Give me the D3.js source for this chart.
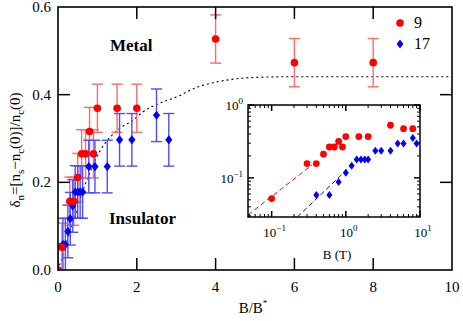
<!DOCTYPE html>
<html>
<head>
<meta charset="utf-8">
<script src="https://cdn.jsdelivr.net/npm/d3@7.9.0/dist/d3.min.js"></script>
<style>
  body { margin: 0; background: #fff; }
  svg { display: block; font-family: "Liberation Serif", "DejaVu Serif", serif; }
</style>
</head>
<body>
<svg id="chart" width="463" height="321"></svg>
<script>
// series 9: B (T) and delta_n, B* = 1 T
const field9 = [0.1, 0.3, 0.4, 0.5, 0.6, 0.7, 0.8, 0.9, 1.0, 1.5, 2, 4, 6, 8];
const delta9 = [0.052, 0.157, 0.157, 0.211, 0.265, 0.265, 0.316, 0.265, 0.369, 0.369, 0.369, 0.527, 0.473, 0.473];
// series 17: B (T) and delta_n, B* = 3.2 T
const field17 = [0.4, 0.6, 0.8, 1.0, 1.2, 1.4, 1.6, 1.8, 2.0, 2.5, 3, 4, 5, 6, 8, 9];
const delta17 = [0.058, 0.058, 0.088, 0.117, 0.146, 0.178, 0.178, 0.178, 0.178, 0.236, 0.236, 0.236, 0.297, 0.297, 0.353, 0.297];
const seriesNames = ['9', '17'];
const bStar = [1, 3.2];
const errBar = [0.055, 0.06];
// dotted guide curve in the main panel
const guideX = [0, 0.35, 0.64, 1.07, 1.57, 1.91, 2.16, 2.59, 3.07, 3.35, 4.34, 5.2, 6, 10];
const guideY = [0, 0.1, 0.183, 0.272, 0.323, 0.342, 0.361, 0.381, 0.397, 0.41, 0.434, 0.44, 0.441, 0.441];
// dashed power-law guides in the inset: [B, delta] end points
const fit9 = [[0.048, 0.031], [0.35, 0.15]];
const fit17 = [[0.222, 0.029], [1.2, 0.15]];

const xTicks = [0, 2, 4, 6, 8, 10];
const yTicks = [0, 0.2, 0.4, 0.6];

const svg = d3.select('#chart');
const red = '#ff0000', blue = '#0000ff';
const redBar = '#ff6a6a', blueBar = '#4d4dff';

const x = d3.scaleLinear().domain([0, 10]).range([58, 452]);
const y = d3.scaleLinear().domain([0, 0.6]).range([270, 7]);

const diamond = (w, h) => `M0,${-h}L${w},0L0,${h}L${-w},0Z`;

const mainData = [
  [{ b: 0, d: 0 }].concat(field9.map((b, i) => ({ b: b / bStar[0], d: delta9[i] }))),
  [{ b: 0, d: 0 }].concat(field17.map((b, i) => ({ b: b / bStar[1], d: delta17[i] })))
];

svg.append('clipPath').attr('id', 'clip')
  .append('rect').attr('x', 58).attr('y', 7).attr('width', 394).attr('height', 263);

const plot = svg.append('g').attr('clip-path', 'url(#clip)');

// guide curve
plot.append('path')
  .datum(guideX.map((v, i) => [v, guideY[i]]))
  .attr('d', d3.line().x(d => x(d[0])).y(d => y(d[1])).curve(d3.curveMonotoneX))
  .attr('fill', 'none').attr('stroke', '#000').attr('stroke-width', 1.1)
  .attr('stroke-dasharray', '2,3');

// error bars
[0, 1].forEach(s => {
  const col = s === 0 ? redBar : blueBar;
  const g = plot.append('g').attr('stroke', col).attr('stroke-width', 1.4).attr('fill', 'none');
  mainData[s].forEach(p => {
    const px = x(p.b), y1 = y(p.d + errBar[s]), y0 = y(p.d - errBar[s]);
    g.append('line').attr('x1', px).attr('x2', px).attr('y1', y1).attr('y2', y0);
    g.append('line').attr('x1', px - 5.5).attr('x2', px + 5.5).attr('y1', y1).attr('y2', y1);
    g.append('line').attr('x1', px - 5.5).attr('x2', px + 5.5).attr('y1', y0).attr('y2', y0);
  });
});

// markers
plot.selectAll('path.m17').data(mainData[1]).join('path')
  .attr('class', 'm17')
  .attr('d', diamond(3.6, 4.6))
  .attr('transform', d => `translate(${x(d.b)},${y(d.d)})`)
  .attr('fill', blue);
plot.selectAll('circle.m9').data(mainData[0]).join('circle')
  .attr('class', 'm9')
  .attr('cx', d => x(d.b)).attr('cy', d => y(d.d)).attr('r', 3.8)
  .attr('fill', red);

// frame + ticks
svg.append('rect').attr('x', 58).attr('y', 7).attr('width', 394).attr('height', 263)
  .attr('fill', 'none').attr('stroke', '#000').attr('stroke-width', 1.6);

const tickG = svg.append('g').attr('stroke', '#000').attr('stroke-width', 1.5);
xTicks.slice(1, -1).forEach(t => {
  tickG.append('line').attr('x1', x(t)).attr('x2', x(t)).attr('y1', 270).attr('y2', 258);
  tickG.append('line').attr('x1', x(t)).attr('x2', x(t)).attr('y1', 7).attr('y2', 19);
});
yTicks.slice(1, -1).forEach(t => {
  tickG.append('line').attr('x1', 58).attr('x2', 70).attr('y1', y(t)).attr('y2', y(t));
  tickG.append('line').attr('x1', 452).attr('x2', 440).attr('y1', y(t)).attr('y2', y(t));
});

svg.append('g').selectAll('text').data(xTicks).join('text')
  .attr('x', d => x(d)).attr('y', 292)
  .attr('text-anchor', 'middle').attr('font-size', 15)
  .text(d => d);
svg.append('g').selectAll('text').data(yTicks).join('text')
  .attr('x', 51).attr('y', d => y(d) + 5)
  .attr('text-anchor', 'end').attr('font-size', 15)
  .text(d => d3.format('.1f')(d));

// axis labels
const xl = svg.append('text').attr('x', 253).attr('y', 313)
  .attr('text-anchor', 'middle').attr('font-size', 15);
xl.append('tspan').text('B/B');
xl.append('tspan').attr('dy', -7).attr('font-size', 9).text('*');

const yl = svg.append('text')
  .attr('transform', 'translate(20,150) rotate(-90)')
  .attr('text-anchor', 'middle').attr('font-size', 15);
[['δ', 0], ['n', 1], ['=[n', 0], ['s', 1], ['−n', 0], ['c', 1], ['(0)]/n', 0], ['c', 1], ['(0)', 0]]
  .forEach(([t, sub], i, arr) => {
    const prevSub = i > 0 ? arr[i - 1][1] : 0;
    const dy = sub && !prevSub ? 4 : (!sub && prevSub ? -4 : 0);
    yl.append('tspan').attr('dy', dy).attr('font-size', sub ? 11 : 15).text(t);
  });

// region labels
svg.append('text').attr('x', 110).attr('y', 51).attr('font-size', 17)
  .attr('font-weight', 'bold').text('Metal');
svg.append('text').attr('x', 109).attr('y', 224).attr('font-size', 17)
  .attr('font-weight', 'bold').text('Insulator');

// legend
const leg = svg.append('g');
leg.append('circle').attr('cx', 400).attr('cy', 23).attr('r', 3.8).attr('fill', red);
leg.append('path').attr('d', diamond(3.4, 4.4)).attr('transform', 'translate(400,44)').attr('fill', blue);
leg.selectAll('text').data(seriesNames).join('text')
  .attr('x', 414).attr('y', (d, i) => 28 + i * 21).attr('font-size', 16).text(d => d);

// ---------- inset ----------
const ix = d3.scaleLog().domain([0.048, 10]).range([248, 420]);
const iy = d3.scaleLog().domain([0.029, 1]).range([217, 105]);

svg.append('rect').attr('x', 248).attr('y', 105).attr('width', 172).attr('height', 112)
  .attr('fill', '#fff');

svg.append('clipPath').attr('id', 'iclip')
  .append('rect').attr('x', 248).attr('y', 105).attr('width', 172).attr('height', 112);
const inset = svg.append('g').attr('clip-path', 'url(#iclip)');

const fitLine = d3.line().x(d => ix(d[0])).y(d => iy(d[1]));
inset.append('path').attr('d', fitLine(fit9)).attr('stroke', red).attr('stroke-width', 1)
  .attr('stroke-dasharray', '5,3').attr('fill', 'none');
inset.append('path').attr('d', fitLine(fit17)).attr('stroke', blue).attr('stroke-width', 1)
  .attr('stroke-dasharray', '5,3').attr('fill', 'none');

inset.selectAll('circle').data(field9).join('circle')
  .attr('cx', d => ix(d)).attr('cy', (d, i) => iy(delta9[i])).attr('r', 3.4)
  .attr('fill', red);
inset.selectAll('path.d17').data(field17).join('path')
  .attr('class', 'd17')
  .attr('d', diamond(3, 4))
  .attr('transform', (d, i) => `translate(${ix(d)},${iy(delta17[i])})`)
  .attr('fill', blue);

svg.append('rect').attr('x', 248).attr('y', 105).attr('width', 172).attr('height', 112)
  .attr('fill', 'none').attr('stroke', '#000').attr('stroke-width', 1.5);

const iTicks = svg.append('g').attr('stroke', '#000').attr('stroke-width', 1);
const xMinor = [], yMinor = [];
[0.01, 0.1, 1].forEach(dec => { for (let k = 2; k <= 9; k++) xMinor.push(dec * k); });
[0.01, 0.1].forEach(dec => { for (let k = 2; k <= 9; k++) yMinor.push(dec * k); });
const xMajor = [0.1, 1, 10], yMajor = [0.1, 1];
xMinor.filter(v => v > 0.048 && v < 10).forEach(v => {
  iTicks.append('line').attr('x1', ix(v)).attr('x2', ix(v)).attr('y1', 217).attr('y2', 214);
  iTicks.append('line').attr('x1', ix(v)).attr('x2', ix(v)).attr('y1', 105).attr('y2', 108);
});
xMajor.forEach(v => {
  iTicks.append('line').attr('x1', ix(v)).attr('x2', ix(v)).attr('y1', 217).attr('y2', 211).attr('stroke-width', 1.5);
  iTicks.append('line').attr('x1', ix(v)).attr('x2', ix(v)).attr('y1', 105).attr('y2', 111).attr('stroke-width', 1.5);
});
yMinor.filter(v => v > 0.029 && v < 1).forEach(v => {
  iTicks.append('line').attr('x1', 248).attr('x2', 251).attr('y1', iy(v)).attr('y2', iy(v));
  iTicks.append('line').attr('x1', 420).attr('x2', 417).attr('y1', iy(v)).attr('y2', iy(v));
});
yMajor.forEach(v => {
  iTicks.append('line').attr('x1', 248).attr('x2', 254).attr('y1', iy(v)).attr('y2', iy(v)).attr('stroke-width', 1.5);
  iTicks.append('line').attr('x1', 420).attr('x2', 414).attr('y1', iy(v)).attr('y2', iy(v)).attr('stroke-width', 1.5);
});

const powLabel = (sel, v) => {
  const e = Math.round(Math.log10(v));
  sel.append('tspan').text('10');
  sel.append('tspan').attr('dy', -6).attr('font-size', 9).text(e < 0 ? '−' + (-e) : e);
};
xMajor.forEach(v => {
  const t = svg.append('text').attr('x', ix(v) + 3).attr('y', 237)
    .attr('text-anchor', 'middle').attr('font-size', 13);
  powLabel(t, v);
});
yMajor.forEach(v => {
  const t = svg.append('text').attr('x', 243).attr('y', iy(v) + 5)
    .attr('text-anchor', 'end').attr('font-size', 13);
  powLabel(t, v);
});
svg.append('text').attr('x', 337).attr('y', 259).attr('text-anchor', 'middle')
  .attr('font-size', 13).text('B (T)');
</script>
</body>
</html>
